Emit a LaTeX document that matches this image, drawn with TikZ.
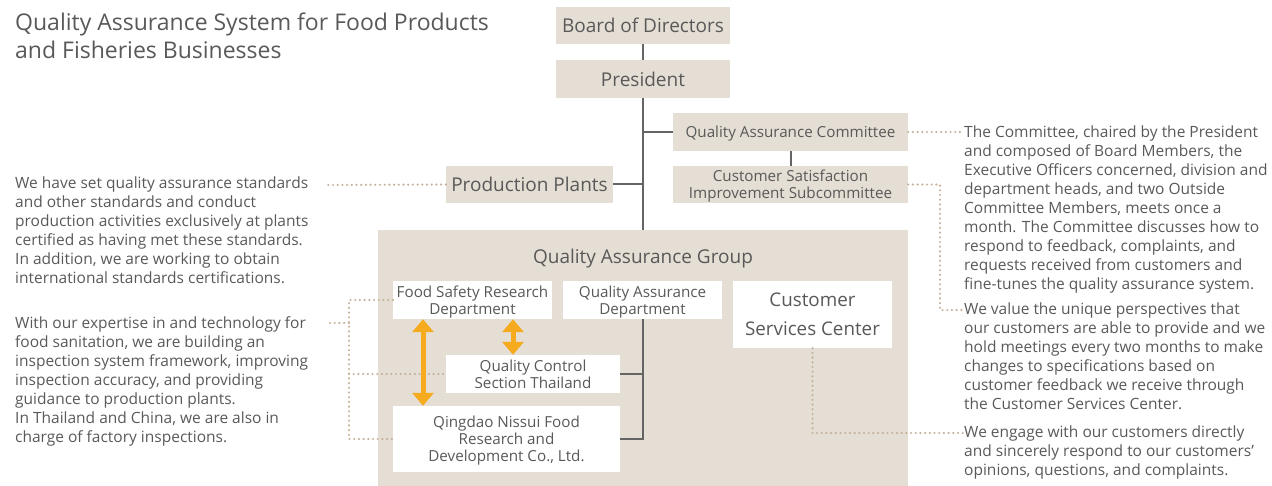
\documentclass[tikz,border=0pt]{standalone}
\usepackage{fontspec}
\setmainfont{Open Sans}
\usetikzlibrary{arrows.meta}
\definecolor{beige}{RGB}{229,222,212}
\definecolor{txt}{RGB}{89,89,89}
\definecolor{linec}{RGB}{100,100,100}
\definecolor{dotc}{RGB}{198,178,155}
\definecolor{orangec}{RGB}{246,170,30}
\begin{document}
\begin{tikzpicture}[x=1pt,y=-1pt,
  box/.style={fill=beige, inner sep=0pt, text=txt, align=center, text depth=0pt, font=\fontsize{19}{22}\selectfont},
  sbox/.style={fill=beige, inner sep=0pt, text=txt, align=center, text depth=0pt, font=\fontsize{15.2}{17}\selectfont},
  wbox/.style={fill=white, inner sep=0pt, text=txt, align=center, text depth=0pt, font=\fontsize{15.2}{17}\selectfont},
  para/.style={anchor=north west, inner sep=0pt, align=left, text=txt, font=\fontsize{15.5}{19}\selectfont},
  conn/.style={draw=linec, line width=2pt},
  dots/.style={draw=dotc, line width=2.4pt, line cap=round, dash pattern=on 0pt off 4.7pt},
  oarrow/.style={draw=orangec, line width=5pt, arrows={Triangle[width=21pt,length=13pt]-Triangle[width=21pt,length=13pt]}}
]
\useasboundingbox (0,0) rectangle (1272,486);

% title
\node[anchor=north west, inner sep=0pt, align=left, text=txt, font=\fontsize{23}{28}\selectfont] (title) at (15,12.5)
  {Quality Assurance System for Food Products\\and Fisheries Businesses};

% main boxes
\node[box, minimum width=174pt, minimum height=37pt] (bod) at (643,25.5) {Board of Directors};
\node[box, minimum width=174pt, minimum height=38pt] (pres) at (643,79) {President};
\node[sbox, minimum width=235pt, minimum height=38pt] (qac) at (790.5,132) {Quality Assurance Committee};
\node[sbox, minimum width=235pt, minimum height=37pt] (csis) at (790.5,184.5) {Customer Satisfaction\\Improvement Subcommittee};
\node[box, minimum width=167pt, minimum height=37pt] (pp) at (529.5,184.5) {Production Plants};
\node[fill=beige, inner sep=0pt, minimum width=530pt, minimum height=256pt] (qag) at (643,358) {};
\node[text=txt, inner sep=0pt, font=\fontsize{19}{22}\selectfont] (qagt) at (643,259) {Quality Assurance Group};

% connectors
\draw[conn] (bod.south) -- (pres.north);
\draw[conn] (pres.south) -- (qag.north);
\draw[conn] (pres.south |- qac.west) -- (qac.west);
\draw[conn] (pp.east) -- (pres.south |- pp.east);
\draw[conn] (qac.south) -- (csis.north);

% leader end points
\coordinate (l1) at (326,185);
\coordinate (l2) at (330,323);
\coordinate (lv) at (349,323);
\coordinate (r1) at (963,132);
\coordinate (r2) at (963,310);
\coordinate (r3) at (963,433);
\coordinate (cv) at (940,184.5);

\node[wbox, minimum width=159pt, minimum height=38pt] (fsrd) at (472.5,300) {Food Safety Research\\Department};
\node[wbox, minimum width=159pt, minimum height=38pt] (qad) at (642.5,300) {Quality Assurance\\Department};
\node[wbox, minimum width=159pt, minimum height=67pt, font=\fontsize{18.8}{29}\selectfont] (csc) at (812.5,314.5) {Customer\\Services Center};
\node[wbox, minimum width=174pt, minimum height=38pt] (qcst) at (533,374) {Quality Control\\Section Thailand};
\node[wbox, minimum width=227pt, minimum height=66pt] (qing) at (506.5,439) {Qingdao Nissui Food\\Research and\\Development Co., Ltd.};

\draw[conn] (qad.south) -- (qad.south |- qing.east) -- (qing.east);
\draw[conn] (qcst.east) -- (qad.south |- qcst.east);

% dotted leaders
\draw[dots] (pp.west) -- (l1);
\draw[dots] (l2) -- (lv);
\draw[dots] (fsrd.west) -- (lv |- fsrd.west) -- (lv |- qing.west) -- (qing.west);
\draw[dots] (lv |- qcst.west) -- (qcst.west);
\draw[dots] (qac.east) -- (r1);
\draw[dots] (csis.east) -- (cv) -- (cv |- r2) -- (r2);
\draw[dots] (csc.south) -- (csc.south |- r3) -- (r3);

% orange arrows
\draw[oarrow] ([xshift=-49.5pt]fsrd.south) -- ([xshift=-49.5pt]fsrd.south |- qing.north);
\draw[oarrow] ([xshift=40.5pt]fsrd.south) -- ([xshift=40.5pt]fsrd.south |- qcst.north);

% paragraphs
\node[para] (p1) at (15,177) {We have set quality assurance standards\\and other standards and conduct\\production activities exclusively at plants\\certified as having met these standards.\\In addition, we are working to obtain\\international standards certifications.};
\node[para] (p2) at (15,316.2) {With our expertise in and technology for\\food sanitation, we are building an\\inspection system framework, improving\\inspection accuracy, and providing\\guidance to production plants.\\In Thailand and China, we are also in\\charge of factory inspections.};
\node[para] (p3) at (964,125.5) {The Committee, chaired by the President\\and composed of Board Members, the\\Executive Officers concerned, division and\\department heads, and two Outside\\Committee Members, meets once a\\month. The Committee discusses how to\\respond to feedback, complaints, and\\requests received from customers and\\fine-tunes the quality assurance system.};
\node[para] (p4) at (964,302.2) {We value the unique perspectives that\\our customers are able to provide and we\\hold meetings every two months to make\\changes to specifications based on\\customer feedback we receive through\\the Customer Services Center.};
\node[para] (p5) at (964,425.7) {We engage with our customers directly\\and sincerely respond to our customers’\\opinions, questions, and complaints.};
\end{tikzpicture}
\end{document}
